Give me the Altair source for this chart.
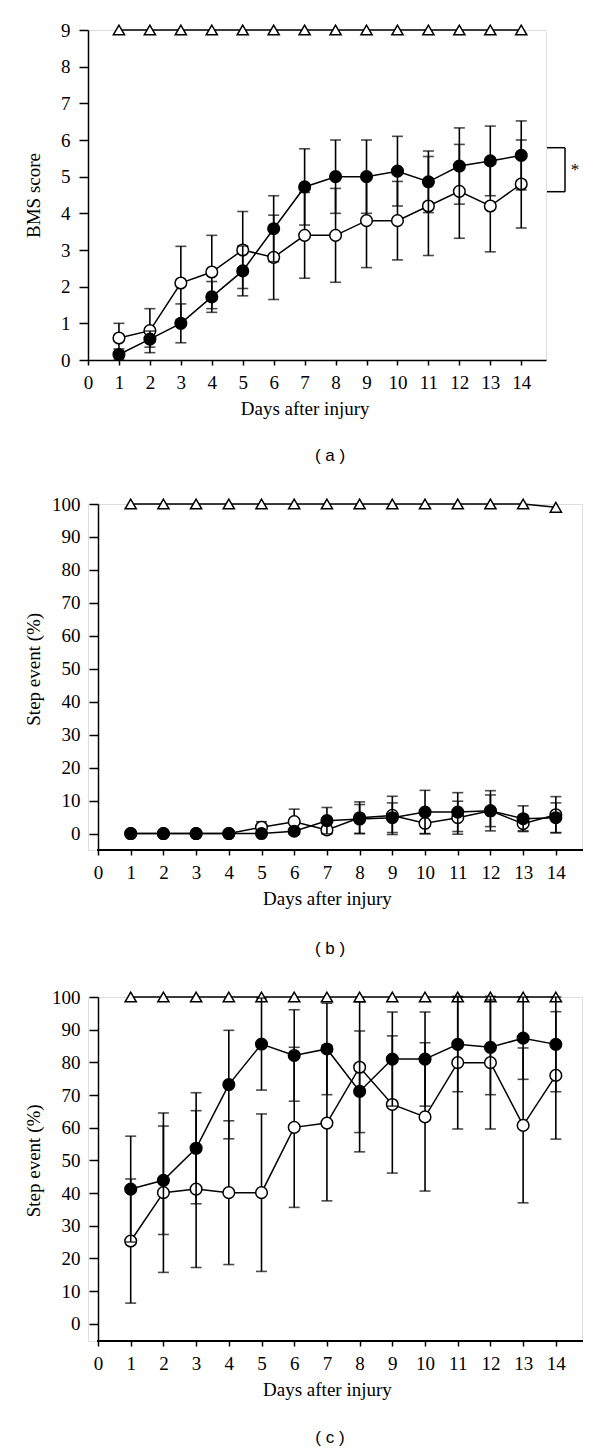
import altair as alt
import pandas as pd

days = list(range(1, 15))

# Panel (a): BMS score
a_sham = [9, 9, 9, 9, 9, 9, 9, 9, 9, 9, 9, 9, 9, 9]
a_filled = [0.15, 0.57, 1.0, 1.72, 2.43, 3.58, 4.72, 5.0, 5.0, 5.15, 4.86, 5.29, 5.43, 5.58]
a_filled_err = [0.15, 0.22, 0.53, 0.42, 0.68, 0.9, 1.04, 1.0, 1.0, 0.95, 0.84, 1.04, 0.95, 0.94]
a_open = [0.6, 0.8, 2.1, 2.4, 3.0, 2.8, 3.4, 3.4, 3.8, 3.8, 4.2, 4.6, 4.2, 4.8]
a_open_err = [0.4, 0.6, 1.0, 1.0, 1.05, 1.15, 1.17, 1.28, 1.28, 1.07, 1.35, 1.28, 1.25, 1.2]
a_bracket = [5.79, 4.59]
a_star = ["*"]

# Panel (b): step event (%)
b_sham = [100, 100, 100, 100, 100, 100, 100, 100, 100, 100, 100, 100, 100, 99]
b_filled = [0, 0, 0, 0, 0, 0.7, 3.9, 4.4, 4.8, 6.5, 6.5, 6.9, 4.5, 4.8]
b_filled_err = [0, 0, 0, 0, 0, 0.7, 4.0, 4.4, 4.5, 6.6, 5.9, 6.1, 3.9, 4.5]
b_open = [0, 0, 0, 0, 1.9, 3.6, 1.1, 4.8, 5.5, 3.1, 4.8, 6.9, 3.0, 5.7]
b_open_err = [0, 0, 0, 0, 1.7, 3.8, 1.1, 4.8, 5.8, 3.1, 5.0, 4.8, 2.2, 5.5]

# Panel (c): step event (%)
c_sham = [100, 100, 100, 100, 100, 100, 100, 100, 100, 100, 100, 100, 100, 100]
c_filled = [41.2, 43.9, 53.7, 73.2, 85.6, 82.1, 84.1, 71.1, 81.0, 81.0, 85.5, 84.6, 87.4, 85.5]
c_filled_err = [16.2, 16.6, 17.0, 16.6, 14.1, 14.0, 14.0, 18.5, 14.4, 14.4, 14.5, 14.5, 12.6, 14.5]
c_open = [25.3, 40.1, 41.2, 40.1, 40.1, 60.1, 61.4, 78.5, 67.1, 63.3, 79.9, 79.9, 60.7, 76.0]
c_open_err = [19.0, 24.4, 24.0, 22.0, 24.1, 24.5, 23.8, 20.0, 21.0, 22.7, 20.3, 20.3, 23.7, 19.5]

x_ticks = list(range(0, 15))
a_yticks = list(range(0, 10))
bc_yticks = list(range(0, 101, 10))

SERIF = "Liberation Serif"
SANS = "Liberation Sans"
LBL = 19
TTL = 19


def make_df(sham, filled, ferr, opn, oerr):
    rows = []
    for i, d in enumerate(days):
        rows.append({"day": d, "grp": "sham", "val": sham[i], "lo": sham[i], "hi": sham[i]})
        rows.append({"day": d, "grp": "filled", "val": filled[i],
                     "lo": filled[i] - ferr[i], "hi": filled[i] + ferr[i]})
        rows.append({"day": d, "grp": "open", "val": opn[i],
                     "lo": opn[i] - oerr[i], "hi": opn[i] + oerr[i]})
    return pd.DataFrame(rows)


def panel(df, letter, ytitle, ydomain, yticks, width, height, shift, ytitle_x, ytitle_y,
          title_dx, title_offset, bracket=None):
    # shift: pixels between the plot's left edge and the y axis (x = 0)
    span = width - shift
    x0 = -14.8 * shift / span
    xaxis = alt.Axis(values=x_ticks, title="Days after injury", grid=False,
                     labelFont=SERIF, labelFontSize=LBL, labelColor="black",
                     labelPadding=8, labelFlush=False,
                     titleFont=SERIF, titleFontSize=TTL, titleFontWeight="normal",
                     titleColor="black", titlePadding=7,
                     titleX=shift + span * 7 / 14.8,
                     domain=(shift == 0), domainColor="black", domainWidth=1.5,
                     tickColor="black", tickWidth=1.5, tickSize=5)
    yaxis_kw = dict(values=yticks, title=ytitle, grid=False,
                    labelFont=SERIF, labelFontSize=LBL, labelColor="black",
                    labelPadding=9, labelFlush=False,
                    titleFont=SERIF, titleFontSize=TTL, titleFontWeight="normal",
                    titleColor="black", titleX=ytitle_x,
                    domainColor="black", domainWidth=1.5,
                    tickColor="black", tickWidth=1.5, tickSize=9)
    if shift:
        yaxis_kw["offset"] = -shift
    if ytitle_y is not None:
        yaxis_kw["titleY"] = ytitle_y
    yaxis = alt.Axis(**yaxis_kw)
    xs = alt.Scale(domain=[x0, 14.8], nice=False, zero=False)
    ys = alt.Scale(domain=ydomain, nice=False, zero=False)
    X = alt.X("day:Q", scale=xs, axis=xaxis)
    Y = alt.Y("val:Q", scale=ys, axis=yaxis)
    base = alt.Chart(df)

    def grp(g):
        return base.transform_filter(alt.datum.grp == g)

    layers = []
    if shift:
        layers.append(base.mark_rule(color="black", strokeWidth=1.5, strokeCap="square").encode(
            x=alt.value(shift), x2=alt.value(width), y=alt.value(height)))
    # sham
    layers.append(grp("sham").mark_line(color="black", strokeWidth=1.5).encode(x=X, y=Y))
    layers.append(grp("sham").mark_point(shape="triangle-up", filled=True, fill="white",
                                          stroke="black", strokeWidth=1.5, size=125,
                                          opacity=1).encode(x=X, y=Y))
    for g, fill in (("open", "white"), ("filled", "black")):
        layers.append(grp(g).mark_rule(color="black", strokeWidth=1.6).encode(
            x=X, y=alt.Y("lo:Q", scale=ys, axis=yaxis), y2="hi:Q"))
        layers.append(grp(g).mark_tick(color="black", orient="horizontal", size=11,
                                       thickness=1.6).encode(
            x=X, y=alt.Y("lo:Q", scale=ys, axis=yaxis)))
        layers.append(grp(g).mark_tick(color="black", orient="horizontal", size=11,
                                       thickness=1.6).encode(
            x=X, y=alt.Y("hi:Q", scale=ys, axis=yaxis)))
        layers.append(grp(g).mark_line(color="black", strokeWidth=1.5).encode(x=X, y=Y))
        layers.append(grp(g).mark_point(shape="circle", filled=True, fill=fill,
                                         stroke="black", strokeWidth=1.5, size=135,
                                         opacity=1).encode(x=X, y=Y))
    if bracket is not None:
        bdf = pd.DataFrame({"top": [bracket[0]], "bot": [bracket[1]],
                            "mid": [(bracket[0] + bracket[1]) / 2], "s": a_star})
        bb = alt.Chart(bdf)
        layers.append(bb.mark_rule(color="black", strokeWidth=1.5).encode(
            x=alt.value(width + 1), x2=alt.value(width + 19),
            y=alt.Y("top:Q", scale=ys, axis=yaxis)))
        layers.append(bb.mark_rule(color="black", strokeWidth=1.5).encode(
            x=alt.value(width + 1), x2=alt.value(width + 19),
            y=alt.Y("bot:Q", scale=ys, axis=yaxis)))
        layers.append(bb.mark_rule(color="black", strokeWidth=1.5).encode(
            x=alt.value(width + 19),
            y=alt.Y("top:Q", scale=ys, axis=yaxis), y2="bot:Q"))
        layers.append(bb.mark_text(font=SERIF, fontSize=17, color="black",
                                   align="center", baseline="middle").encode(
            x=alt.value(width + 29),
            y=alt.Y("mid:Q", scale=ys, axis=yaxis), text="s:N"))
    return alt.layer(*layers).properties(
        width=width, height=height,
        title=alt.TitleParams(f"( {letter} )", orient="bottom", font=SANS, fontSize=17,
                              fontWeight="normal", color="black", offset=title_offset,
                              dx=title_dx, anchor="middle", frame="group"),
    )


dfa = make_df(a_sham, a_filled, a_filled_err, a_open, a_open_err)
dfb = make_df(b_sham, b_filled, b_filled_err, b_open, b_open_err)
dfc = make_df(c_sham, c_filled, c_filled_err, c_open, c_open_err)

WA, HA = 458, 330
WB, HB = 494, 346
WC, HC = 494, 344

pa = panel(dfa, "a", "BMS score", [0, 9], a_yticks, WA, HA, 0, -45, None, 13, 30,
           bracket=a_bracket)
pb = panel(dfb, "b", "Step event (%)", [-5, 100], bc_yticks, WB, HB, 10, -55,
           HB * 100 / 105 / 2, -5, 33)
pc = panel(dfc, "c", "Step event (%)", [-5.3, 100], bc_yticks, WC, HC, 10, -55,
           HC * 100 / 105.3 / 2, -5, 31)

chart = alt.concat(pa, pb, pc, columns=1, spacing=29).properties(
    padding={"left": 15, "top": 12, "right": 5, "bottom": 5}
).configure_view(stroke=None).configure(background="white")

chart.save("out.html", embed_options={"renderer": "svg", "actions": False})
